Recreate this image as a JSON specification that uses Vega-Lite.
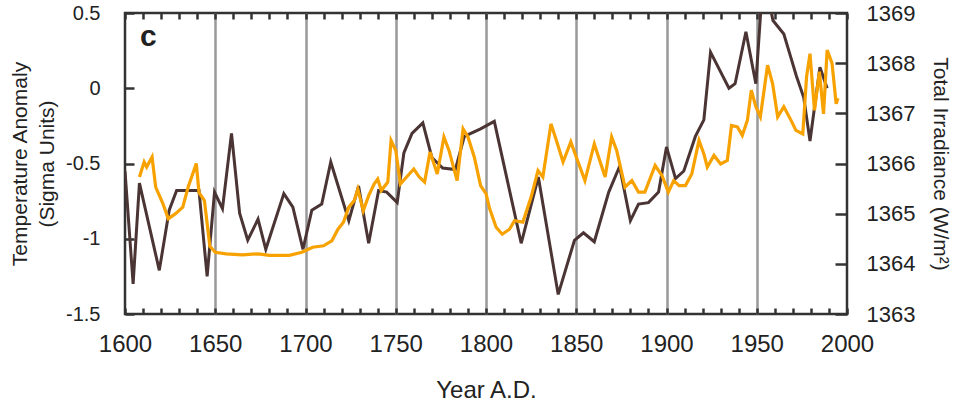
{
  "$schema": "https://vega.github.io/schema/vega-lite/v6.json",
  "width": 722,
  "height": 301,
  "autosize": "none",
  "padding": {"left": 125, "top": 13, "right": 106, "bottom": 88},
  "background": "white",
  "config": {
    "view": {"stroke": "#333", "strokeWidth": 2.5},
    "font": "Liberation Sans",
    "axis": {
      "labelFont": "Liberation Sans",
      "titleFont": "Liberation Sans",
      "labelColor": "#222",
      "titleColor": "#222",
      "titleFontWeight": "normal",
      "labelFlush": false,
      "labelOverlap": false,
      "ticks": true,
      "tickOpacity": 1,
      "tickColor": "#333333",
      "tickWidth": 2.5,
      "tickDash": [],
      "tickCap": "butt"
    },
    "axisX": {"ticks": true, "tickOpacity": 1, "tickColor": "#333333", "tickWidth": 2.5},
    "axisY": {"ticks": true, "tickOpacity": 1, "tickColor": "#333333", "tickWidth": 2.5},
    "axisQuantitative": {"ticks": true, "tickOpacity": 1, "tickColor": "#333333", "tickWidth": 2.5}
  },
  "datasets": {
    "temp": [
      {"year": 1600, "anomaly": -0.55},
      {"year": 1604.5, "anomaly": -1.3},
      {"year": 1608, "anomaly": -0.63},
      {"year": 1619, "anomaly": -1.21},
      {"year": 1624.5, "anomaly": -0.81},
      {"year": 1628.6, "anomaly": -0.68},
      {"year": 1635, "anomaly": -0.68},
      {"year": 1641, "anomaly": -0.68},
      {"year": 1645.5, "anomaly": -1.25},
      {"year": 1649.6, "anomaly": -0.69},
      {"year": 1654, "anomaly": -0.8},
      {"year": 1659, "anomaly": -0.3},
      {"year": 1663.5, "anomaly": -0.83},
      {"year": 1668, "anomaly": -1.01},
      {"year": 1673.7, "anomaly": -0.87},
      {"year": 1678, "anomaly": -1.07},
      {"year": 1688, "anomaly": -0.7},
      {"year": 1693, "anomaly": -0.79},
      {"year": 1698.6, "anomaly": -1.07},
      {"year": 1703.5, "anomaly": -0.81},
      {"year": 1709, "anomaly": -0.77},
      {"year": 1714, "anomaly": -0.49},
      {"year": 1724, "anomaly": -0.88},
      {"year": 1729.4, "anomaly": -0.65},
      {"year": 1735, "anomaly": -1.03},
      {"year": 1740.5, "anomaly": -0.68},
      {"year": 1745, "anomaly": -0.69},
      {"year": 1750.8, "anomaly": -0.76},
      {"year": 1754.5, "anomaly": -0.43},
      {"year": 1759, "anomaly": -0.3},
      {"year": 1765, "anomaly": -0.23},
      {"year": 1770, "anomaly": -0.46},
      {"year": 1776, "anomaly": -0.53},
      {"year": 1783, "anomaly": -0.54},
      {"year": 1788, "anomaly": -0.32},
      {"year": 1797, "anomaly": -0.27},
      {"year": 1804.6, "anomaly": -0.22},
      {"year": 1819.5, "anomaly": -1.03},
      {"year": 1829, "anomaly": -0.59},
      {"year": 1840, "anomaly": -1.37},
      {"year": 1849, "anomaly": -1.01},
      {"year": 1854, "anomaly": -0.96},
      {"year": 1860, "anomaly": -1.02},
      {"year": 1868, "anomaly": -0.69},
      {"year": 1874, "anomaly": -0.52},
      {"year": 1880, "anomaly": -0.88},
      {"year": 1884.5, "anomaly": -0.77},
      {"year": 1890, "anomaly": -0.76},
      {"year": 1895.6, "anomaly": -0.69},
      {"year": 1900, "anomaly": -0.39},
      {"year": 1905, "anomaly": -0.6},
      {"year": 1909.6, "anomaly": -0.55},
      {"year": 1916, "anomaly": -0.32},
      {"year": 1920.7, "anomaly": -0.21},
      {"year": 1924.4, "anomaly": 0.24},
      {"year": 1934.6, "anomaly": 0.0},
      {"year": 1938, "anomaly": 0.03},
      {"year": 1944, "anomaly": 0.375},
      {"year": 1949.5, "anomaly": 0.03},
      {"year": 1953, "anomaly": 0.65},
      {"year": 1956, "anomaly": 0.62},
      {"year": 1959, "anomaly": 0.45},
      {"year": 1965, "anomaly": 0.36},
      {"year": 1969, "anomaly": 0.2},
      {"year": 1972, "anomaly": 0.08},
      {"year": 1976, "anomaly": -0.06},
      {"year": 1979.5, "anomaly": -0.35},
      {"year": 1985, "anomaly": 0.14},
      {"year": 1989, "anomaly": 0.0}
    ],
    "irr": [
      {"year": 1608, "irradiance": 1365.73},
      {"year": 1610.6, "irradiance": 1366.03},
      {"year": 1612, "irradiance": 1365.93},
      {"year": 1615, "irradiance": 1366.13},
      {"year": 1617, "irradiance": 1365.53},
      {"year": 1621, "irradiance": 1365.2},
      {"year": 1624, "irradiance": 1364.9},
      {"year": 1628, "irradiance": 1365.0},
      {"year": 1632, "irradiance": 1365.13},
      {"year": 1635, "irradiance": 1365.53},
      {"year": 1639.5, "irradiance": 1366.0},
      {"year": 1641, "irradiance": 1365.42},
      {"year": 1644, "irradiance": 1365.26},
      {"year": 1647, "irradiance": 1364.35},
      {"year": 1650, "irradiance": 1364.23},
      {"year": 1656, "irradiance": 1364.2},
      {"year": 1665, "irradiance": 1364.18},
      {"year": 1674, "irradiance": 1364.2},
      {"year": 1680, "irradiance": 1364.17},
      {"year": 1691, "irradiance": 1364.17},
      {"year": 1698, "irradiance": 1364.23},
      {"year": 1704, "irradiance": 1364.33},
      {"year": 1710, "irradiance": 1364.36},
      {"year": 1714.6, "irradiance": 1364.46},
      {"year": 1718, "irradiance": 1364.69},
      {"year": 1721, "irradiance": 1364.83},
      {"year": 1724, "irradiance": 1365.13},
      {"year": 1727, "irradiance": 1365.26},
      {"year": 1729, "irradiance": 1365.49},
      {"year": 1732, "irradiance": 1365.06},
      {"year": 1735, "irradiance": 1365.36},
      {"year": 1738, "irradiance": 1365.59},
      {"year": 1740, "irradiance": 1365.69},
      {"year": 1742, "irradiance": 1365.46},
      {"year": 1745.6, "irradiance": 1365.63},
      {"year": 1747.4, "irradiance": 1366.46},
      {"year": 1750, "irradiance": 1366.26},
      {"year": 1752.6, "irradiance": 1365.59},
      {"year": 1756, "irradiance": 1365.73},
      {"year": 1760, "irradiance": 1365.89},
      {"year": 1763, "irradiance": 1365.73},
      {"year": 1766, "irradiance": 1365.63},
      {"year": 1769, "irradiance": 1366.23},
      {"year": 1773, "irradiance": 1365.79},
      {"year": 1776.7, "irradiance": 1366.53},
      {"year": 1779.5, "irradiance": 1366.26},
      {"year": 1784, "irradiance": 1365.66},
      {"year": 1787.3, "irradiance": 1366.69},
      {"year": 1790, "irradiance": 1366.53},
      {"year": 1793.5, "irradiance": 1366.13},
      {"year": 1797, "irradiance": 1365.56},
      {"year": 1800, "irradiance": 1365.4},
      {"year": 1802, "irradiance": 1365.1},
      {"year": 1805.6, "irradiance": 1364.73},
      {"year": 1809, "irradiance": 1364.59},
      {"year": 1813, "irradiance": 1364.69},
      {"year": 1815.8, "irradiance": 1364.86},
      {"year": 1820.4, "irradiance": 1364.83},
      {"year": 1825, "irradiance": 1365.33},
      {"year": 1828.8, "irradiance": 1365.86},
      {"year": 1831.5, "irradiance": 1365.73},
      {"year": 1836, "irradiance": 1366.79},
      {"year": 1839, "irradiance": 1366.46},
      {"year": 1842.7, "irradiance": 1366.03},
      {"year": 1847, "irradiance": 1366.43},
      {"year": 1850, "irradiance": 1366.13},
      {"year": 1854.8, "irradiance": 1365.66},
      {"year": 1860, "irradiance": 1366.39},
      {"year": 1863, "irradiance": 1366.06},
      {"year": 1866, "irradiance": 1365.73},
      {"year": 1869.6, "irradiance": 1366.53},
      {"year": 1872.4, "irradiance": 1366.26},
      {"year": 1877, "irradiance": 1365.53},
      {"year": 1880.8, "irradiance": 1365.66},
      {"year": 1884.5, "irradiance": 1365.43},
      {"year": 1888, "irradiance": 1365.43},
      {"year": 1893.7, "irradiance": 1365.96},
      {"year": 1897.5, "irradiance": 1365.76},
      {"year": 1901, "irradiance": 1365.43},
      {"year": 1904, "irradiance": 1365.66},
      {"year": 1907, "irradiance": 1365.56},
      {"year": 1910.5, "irradiance": 1365.56},
      {"year": 1914, "irradiance": 1365.79},
      {"year": 1918, "irradiance": 1366.46},
      {"year": 1920.7, "irradiance": 1366.19},
      {"year": 1922.6, "irradiance": 1365.93},
      {"year": 1926.3, "irradiance": 1366.16},
      {"year": 1930, "irradiance": 1365.99},
      {"year": 1933.7, "irradiance": 1366.06},
      {"year": 1936, "irradiance": 1366.76},
      {"year": 1939.3, "irradiance": 1366.73},
      {"year": 1942, "irradiance": 1366.56},
      {"year": 1944.8, "irradiance": 1366.86},
      {"year": 1947, "irradiance": 1367.46},
      {"year": 1949.5, "irradiance": 1367.13},
      {"year": 1952, "irradiance": 1366.93},
      {"year": 1956, "irradiance": 1367.96},
      {"year": 1958.8, "irradiance": 1367.59},
      {"year": 1961.6, "irradiance": 1366.93},
      {"year": 1965, "irradiance": 1367.13},
      {"year": 1969, "irradiance": 1366.86},
      {"year": 1971.7, "irradiance": 1366.66},
      {"year": 1975.5, "irradiance": 1366.59},
      {"year": 1977.6, "irradiance": 1367.73},
      {"year": 1979.5, "irradiance": 1368.19},
      {"year": 1982, "irradiance": 1367.06},
      {"year": 1984.7, "irradiance": 1367.83},
      {"year": 1987, "irradiance": 1366.99},
      {"year": 1989, "irradiance": 1368.26},
      {"year": 1991.7, "irradiance": 1368.0},
      {"year": 1994, "irradiance": 1367.19},
      {"year": 1995, "irradiance": 1367.3}
    ]
  },
  "layer": [
    {
      "data": {"values": [{"label": "c"}]},
      "mark": {"type": "text", "font": "Liberation Sans", "fontWeight": "bold", "fontSize": 30, "color": "#222", "align": "center", "baseline": "middle"},
      "encoding": {
        "text": {"field": "label"},
        "x": {
          "datum": 1613, "type": "quantitative",
          "scale": {"domain": [1600, 2000], "nice": false, "zero": false},
          "axis": {
            "orient": "bottom",
            "values": [1600, 1650, 1700, 1750, 1800, 1850, 1900, 1950, 2000],
            "ticks": false,
            "labels": false,
            "domain": false,
            "title": null,
            "grid": true,
            "gridColor": "#999",
            "gridWidth": 2.5,
            "gridOpacity": {"condition": {"test": "datum.value > 1600 && datum.value < 2000", "value": 1}, "value": 0}
          }
        },
        "y": {"datum": 0.34, "type": "quantitative", "scale": {"domain": [-1.5, 0.5], "nice": false, "zero": false}, "axis": null}
      }
    },
    {
      "data": {"name": "temp"},
      "mark": {"type": "line", "color": "#4b3434", "strokeWidth": 3, "clip": true},
      "encoding": {
        "x": {
          "field": "year", "type": "quantitative",
          "axis": {
            "orient": "bottom",
            "offset": -6,
            "domain": false,
            "ticks": true,
            "tickSize": 6,
            "tickColor": "#333333",
            "tickWidth": 2.5,
            "tickOpacity": 1,
            "values": [1600,1610,1620,1630,1640,1650,1660,1670,1680,1690,1700,1710,1720,1730,1740,1750,1760,1770,1780,1790,1800,1810,1820,1830,1840,1850,1860,1870,1880,1890,1900,1910,1920,1930,1940,1950,1960,1970,1980,1990,2000],
            "labelExpr": "datum.value % 50 === 0 ? toString(datum.value) : ''",
            "labelFontSize": 24,
            "labelPadding": 18,
            "title": "Year A.D.",
            "titleFontSize": 24,
            "titlePadding": 22,
            "grid": false
          }
        },
        "y": {
          "field": "anomaly", "type": "quantitative",
          "scale": {"domain": [-1.5, 0.5], "nice": false, "zero": false},
          "axis": {
            "orient": "left",
            "offset": -9,
            "domain": false,
            "ticks": true,
            "tickSize": 9,
            "tickColor": "#333333",
            "tickWidth": 2.5,
            "tickOpacity": 1,
            "values": [-1.5, -1, -0.5, 0, 0.5],
            "labelExpr": "toString(datum.value)",
            "labelFontSize": 20,
            "labelPadding": 25,
            "title": ["Temperature Anomaly", "(Sigma Units)"],
            "titleFontSize": 21,
            "titleLineHeight": 27,
            "titlePadding": 8,
            "grid": false
          }
        }
      }
    },
    {
      "data": {"name": "irr"},
      "mark": {"type": "line", "color": "#f7a200", "strokeWidth": 3.2, "clip": true},
      "encoding": {
        "x": {
          "field": "year", "type": "quantitative",
          "axis": {
            "orient": "top",
            "offset": -6,
            "domain": false,
            "ticks": true,
            "tickSize": 6,
            "tickColor": "#333333",
            "tickWidth": 2.5,
            "tickOpacity": 1,
            "values": [1600,1610,1620,1630,1640,1650,1660,1670,1680,1690,1700,1710,1720,1730,1740,1750,1760,1770,1780,1790,1800,1810,1820,1830,1840,1850,1860,1870,1880,1890,1900,1910,1920,1930,1940,1950,1960,1970,1980,1990,2000],
            "labels": false,
            "title": null,
            "grid": false
          }
        },
        "y": {
          "field": "irradiance", "type": "quantitative",
          "scale": {"domain": [1363, 1369], "nice": false, "zero": false},
          "axis": {
            "orient": "right",
            "offset": -12,
            "domain": false,
            "ticks": true,
            "tickSize": 12,
            "tickColor": "#333333",
            "tickWidth": 2.5,
            "tickOpacity": 1,
            "values": [1363, 1364, 1365, 1366, 1367, 1368, 1369],
            "format": "d",
            "labelFontSize": 22,
            "labelPadding": 19,
            "title": "Total Irradiance (W/m²)",
            "titleFontSize": 21,
            "titlePadding": 15,
            "grid": false
          }
        }
      }
    }
  ],
  "resolve": {"scale": {"y": "independent"}, "axis": {"x": "independent", "y": "independent"}}
}
